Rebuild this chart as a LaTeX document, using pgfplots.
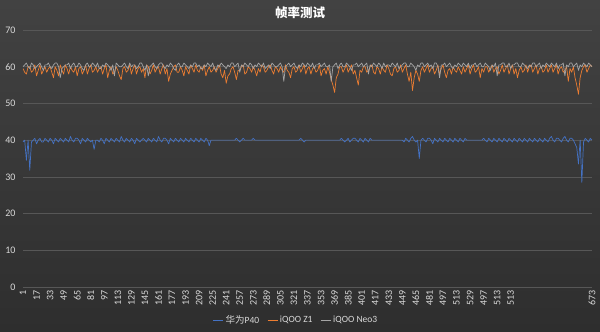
\documentclass[border=0pt]{standalone}
\usepackage{fontspec}
\setmainfont{Carlito}
\newfontfamily\cjk{Noto Sans CJK SC}
\usepackage{pgfplots}
\pgfplotsset{compat=1.18}
\usepackage{pgfplotstable}
\definecolor{bgtop}{HTML}{424242}
\definecolor{bgbot}{HTML}{2E2E2E}
\definecolor{gridc}{HTML}{575757}
\definecolor{tickc}{HTML}{D9D9D9}
\definecolor{sblue}{HTML}{4472C4}
\definecolor{sorange}{HTML}{ED7D31}
\definecolor{sgrey}{HTML}{A5A5A5}
\pgfplotstableread{
x b o g
1 39.5 59.5 60
3 40 58.5 60.5
5 34.5 58 61
7 40 60 60
9 31.8 60 59.5
11 39.5 58.5 61
13 40 59 60.5
15 40.5 60.5 59.5
17 39 57.5 60
19 40 59 60.5
21 40.5 60.5 61
23 39.5 58 60
25 39.5 59 59
27 40.5 60 60.5
29 40 58.5 60.5
31 39.5 59.5 61
33 40.5 60 60
35 40 58.5 59.5
37 39 57 60.5
39 40.5 60 61
41 40 59 61
43 39.5 57.5 60
45 40.5 60.5 57
47 40 59 59.5
49 39.5 58 60
51 40.5 60.5 60.5
53 40 59.5 60.5
55 39.5 58 61
57 41 60 59.5
59 40 59 60.5
61 39.5 58.5 61
63 40.5 60 60
65 40.5 57.5 60
67 40 59.5 61
69 39 60 60.5
71 40.5 58 59.5
73 40 59 59
75 39.5 60.5 60.5
77 40.5 58 61
79 40 59.5 60
81 39.5 60.5 60
83 40 58.5 61
85 37.5 59 60.5
87 40 60 60
89 40 58.5 61
91 39.5 59.5 59.5
93 40.5 60 59.5
95 40 58 60.5
97 39 59.5 60
99 40.5 60.5 61
101 40 57 60.5
103 39.5 59 60
105 40.5 60 59
107 40 58 60.5
109 39.5 58.5 57.5
111 40.5 60 61
113 40 59 60.5
115 39.5 57.5 60
117 41 56.5 60
119 40 59.5 60.5
121 39.5 60 61
123 40.5 58.5 60
125 40 59 59.5
127 39.5 60.5 61
129 40.5 58 60
131 40 59.5 60.5
133 39 60.5 60.5
135 40.5 58 59.5
137 40 59.5 60
139 39.5 60 61
141 40 58.5 61
143 40.5 59.5 60
145 40 57 59
147 39.5 60.5 60.5
149 40.5 60 57.5
151 40 58 60
153 39.5 59 60.5
155 40.5 60.5 61
157 40 58.5 60
159 39.5 59.5 59.5
161 41 60 60.5
163 40 58 61
165 39.5 59.5 61
167 40.5 60.5 60
169 40.5 58 59.5
171 40 59.5 60.5
173 39 56 60
175 40.5 58 61
177 40 59 60.5
179 39.5 60 59.5
181 40.5 60.5 59
183 40 58.5 60.5
185 39.5 58.5 61
187 40.5 60 60
189 40 59 60
191 39.5 57.5 61
193 40.5 60 60.5
195 40 59 60
197 39.5 58 59.5
199 40.5 60.5 60.5
201 40 59.5 60
203 39.5 58.5 61
205 40.5 60.5 61
207 40 59 60
209 39.5 58.5 60.5
211 40.5 60 59.5
213 40 59 59.5
215 39.5 60.5 60.5
217 40.5 57.5 60
219 40 59 61
221 38.5 60 60.5
223 40 58.5 60
225 40 59 61
227 40 60 59.5
229 40 58.5 59
231 40 59.5 60.5
233 40 60.5 60
235 40 58 61
237 40 57 60.5
239 40 59 60
241 40 55.5 59.5
243 40 57.5 60.5
245 40 58 60
247 40 59.5 61
249 40 60 61
251 40 58.5 60
253 40.5 56.5 60.5
255 40 59 61
257 39.5 59 58.5
259 40 60 60.5
261 40.5 60.5 60
263 40 58 61
265 40 58.5 60.5
267 40 60 60
269 40 59.5 61
271 40 58.5 60.5
273 40.5 60 59.5
275 40 59 60.5
277 40 57.5 60
279 40 59.5 61
281 40 58.5 60.5
283 40 60.5 60
285 40 60 61
287 40 58.5 59.5
289 40 59 60
291 40 60 60.5
293 40 60.5 59.5
295 40 59 61
297 40 58 60.5
299 40 60 60
301 40 59.5 60
303 40 58.5 60.5
305 40 60 61
307 40 59 60
309 40 58.5 56
311 40 60.5 60
313 40 59 60.5
315 40 58.5 61
317 40 57 60
319 40 59.5 60.5
321 40 60 61
323 40 58.5 60
325 40 59 59.5
327 40 60.5 60.5
329 40.5 58.5 60
331 40 59.5 61
333 39.5 60.5 60.5
335 40 58 60
337 40 59.5 61
339 40 60 60.5
341 40 58 60
343 40 59.5 61
345 40 60 59.5
347 40 58.5 60.5
349 40 59 60.5
351 40 60.5 61
353 40 57.5 60
355 40 59 60.5
357 40 59.5 61
359 40 58 60
361 40 60 60
363 40 58.5 60.5
365 40 56.5 56
367 40 55 60
369 40 53 60.5
371 40 57 61
373 40 58 59.5
375 40 60 60.5
377 40.5 60 61
379 40 58.5 60
381 39.5 59.5 60
383 40 60.5 61
385 40.5 58.5 60.5
387 39.5 59.5 60
389 40 60.5 59
391 40.5 58 60.5
393 40.5 59 60.5
395 40 57 61
397 39.5 55 60
399 40.5 59 60.5
401 40 58.5 61
403 39.5 60 60
405 40.5 60 60.5
407 40 58.5 61
409 39.5 59 58
411 40.5 60 60.5
413 40 60.5 60
415 40 58.5 61
417 40 58 60.5
419 40 60 60
421 40 59.5 61
423 40 58 60.5
425 40 60 59.5
427 40 59 61
429 40 58.5 60
431 40 60.5 60.5
433 40 59.5 60.5
435 40 58 60
437 40 57.5 61
439 40 59.5 60.5
441 40 60 60
443 40 58.5 61
445 40 59 59.5
447 40 60.5 60
449 40 58.5 60.5
451 39.5 59.5 61
453 40.5 60.5 61
455 40 58 60
457 39.5 56 60
459 40.5 58.5 61
461 41 53.5 60.5
463 40 57 60
465 39.5 59 59
467 40 58 60.5
469 35 56 60
471 40 59 61
473 40.5 60 61
475 40 58.5 60
477 39.5 59.5 60.5
479 40.5 60.5 61
481 40.5 58.5 60
483 40 59.5 60.5
485 39 60 59.5
487 40.5 58 61
489 40 59 61
491 39.5 60.5 60
493 40.5 58 57
495 40 59.5 60.5
497 39.5 60.5 60.5
499 40.5 58.5 61
501 40 57 60
503 39.5 59 60.5
505 40.5 59.5 61
507 40 58 60
509 39.5 60 59.5
511 40.5 59 60.5
513 40 58.5 60
515 39.5 60 61
517 40.5 59 60.5
519 40 58 60
521 39.5 60 61
523 40.5 58.5 60.5
525 40 59.5 60
527 40 60.5 61
529 40 58 59.5
531 40 59.5 60.5
533 40 60.5 60.5
535 40 58.5 61
537 40 59 60
539 40 60 60.5
541 40 57 61
543 40 59.5 60
545 40.5 58.5 60
547 40 60 61
549 39.5 60 60.5
551 40.5 58.5 60
553 40 59.5 59
555 39.5 60.5 60.5
557 40.5 58.5 60
559 40 59.5 61
561 39.5 60 57.5
563 40.5 58 60.5
565 40 59 60.5
567 39.5 60.5 61
569 40.5 58.5 61
571 40 59.5 60
573 39.5 60.5 60
575 40.5 58 61
577 40 59.5 59.5
579 39.5 60.5 60.5
581 40.5 58 60.5
583 40 59.5 61
585 39.5 57 61
587 40.5 59 60
589 40 60 60
591 39.5 58.5 61
593 40.5 59 60.5
595 40 60.5 60
597 39.5 58.5 59.5
599 40.5 60 60.5
601 40 60.5 60
603 39.5 58.5 61
605 40.5 59.5 61
607 40 60.5 60
609 39.5 58 60.5
611 40.5 59.5 61
613 40 60 59.5
615 39.5 58.5 60.5
617 40.5 59 60
619 40 60.5 61
621 39.5 58.5 60.5
623 40.5 59.5 60
625 41 60.5 61
627 40 58.5 60.5
629 39.5 59.5 60
631 40.5 60.5 61
633 40.5 58 59.5
635 40 59.5 60.5
637 39.5 60 60.5
639 40.5 58.5 61
641 41 59 57.5
643 40 60 60.5
645 39.5 56 60
647 40.5 59.5 61
649 40.5 58.5 61
651 40 60 60
653 39 57 60.5
655 38 55 61
657 33.5 52.5 59
659 40 57 60.5
661 28.5 59 60
663 39.5 60 61
665 40.5 60.5 60.5
667 40 58.5 60
669 39.5 59.5 61
671 40.5 60.5 60.5
673 40 60 60
}\data
\begin{document}
\begin{tikzpicture}
\shade[top color=bgtop,bottom color=bgbot] (0,0) rectangle (600pt,332pt);
\node[font=\cjk\bfseries\fontsize{12.5}{14}\selectfont, text=white] at (300pt,319pt) {帧率测试};
\begin{axis}[
  at={(23pt,45pt)}, anchor=south west,
  width=569pt, height=257pt, scale only axis,
  xmin=1, xmax=673, ymin=0, ymax=70,
  ytick={0,10,...,70},
  ymajorgrids,
  grid style={gridc, line width=0.6pt},
  axis line style={draw=none},
  major tick style={draw=none},
  xtick={1,17,33,49,65,81,97,113,129,145,161,177,193,209,225,241,257,273,289,305,321,337,353,369,385,401,417,433,449,465,481,497,513,529,545,561,577,673},
  xticklabels={1,17,33,49,65,81,97,113,129,145,161,177,193,209,225,241,257,273,289,305,321,337,353,369,385,401,417,433,449,465,481,497,513,529,497,513,513,673},
  x tick label style={rotate=90, anchor=east, xshift=0pt},
  y tick label style={xshift=-4pt},
  ticklabel style={font=\fontsize{10}{11}\selectfont, text=tickc},
  /pgf/number format/assume math mode=true,
  legend columns=3,
  legend style={at={(0.48,-0.13)}, anchor=center, draw=none, fill=none,
    text=tickc, font=\fontsize{9.5}{11}\selectfont,
    /tikz/every even column/.append style={column sep=6pt}},
  legend image code/.code={\draw[mark repeat=2,mark phase=2] plot coordinates {(0pt,0pt) (5pt,0pt) (10pt,0pt)};},
  every axis plot/.append style={line width=0.7pt, line join=round},
]
\addplot[sblue, mark=none] table[x=x, y=b] {\data};
\addlegendentry{{\cjk 华为}P40}
\addplot[sorange, mark=none] table[x=x, y=o] {\data};
\addlegendentry{iQOO Z1}
\addplot[sgrey, mark=none] table[x=x, y=g] {\data};
\addlegendentry{iQOO Neo3}
\end{axis}
\end{tikzpicture}
\end{document}
